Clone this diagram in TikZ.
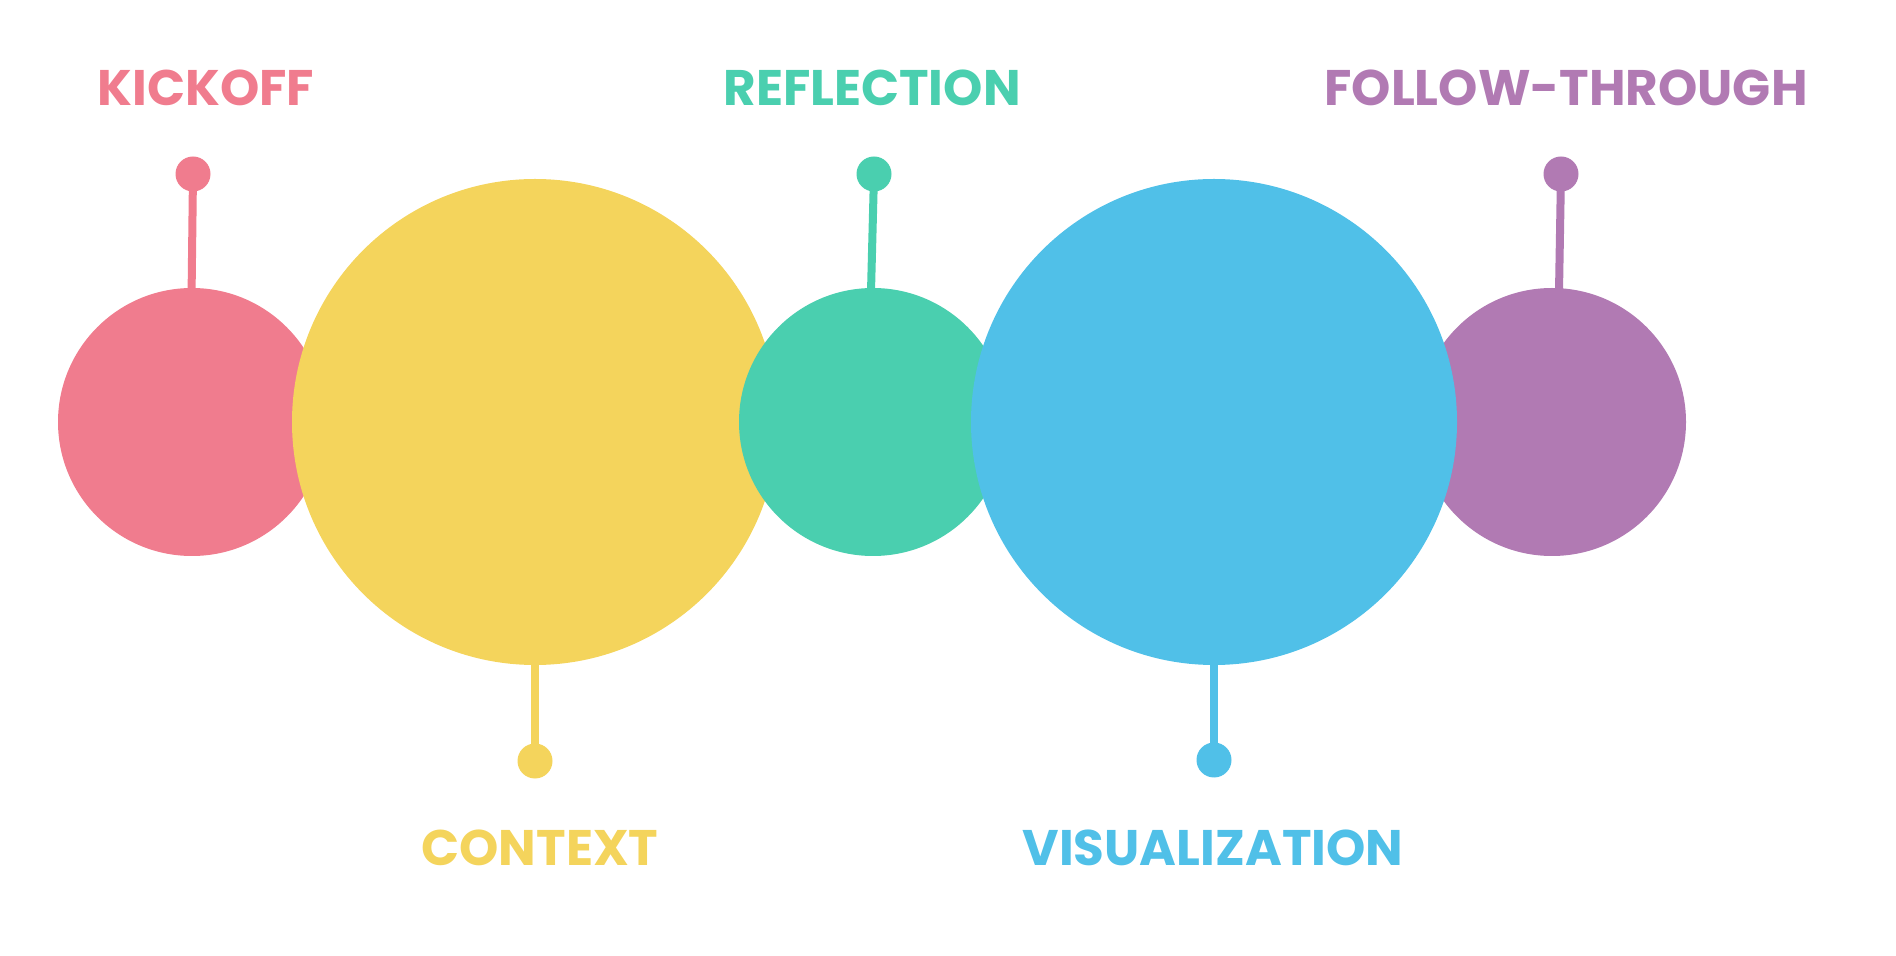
\documentclass[tikz,border=0pt]{standalone}
\usepackage{fontspec}
\newfontfamily\stagefont{Poppins}
\usetikzlibrary{positioning}
\definecolor{kickcol}{HTML}{F07C8E}
\definecolor{ctxcol}{HTML}{F4D45C}
\definecolor{refcol}{HTML}{4ACFAF}
\definecolor{vizcol}{HTML}{50C0E8}
\definecolor{followcol}{HTML}{B17AB3}
\tikzset{
  blob/.style={circle,inner sep=0pt,minimum size=#1},
  pin/.style={circle,inner sep=0pt,minimum size=17.5pt},
  stem/.style={line width=4pt},
  stagelabel/.style={font=\stagefont\bfseries\fontsize{25}{30}\selectfont,inner sep=0pt,anchor=center}
}
\begin{document}
\begin{tikzpicture}[x=0.5pt,y=-0.5pt]
  \useasboundingbox (0,0) rectangle (1896,956); % 全体の大きさ
  \node[blob=134pt,fill=kickcol] (kick) at (192,422) {}; % 左端の小さい円
  \node[blob=243pt,fill=ctxcol] (ctx) at (535,422) {}; % 大きい円（黄）
  \node[blob=134pt,fill=refcol] (ref) at (873,422) {}; % 中央の小さい円
  \node[blob=134pt,fill=followcol] (follow) at (1552,422) {}; % 右端の小さい円
  \node[blob=243pt,fill=vizcol] (viz) at (1214,422) {}; % 大きい円（青）

  % 上向きのピン
  \node[pin,fill=kickcol] (kickdot) at (193,174) {};
  \node[pin,fill=refcol] (refdot) at (874,174) {};
  \node[pin,fill=followcol] (followdot) at (1561,174) {};
  \draw[stem,kickcol] ([xshift=-0.2pt,yshift=-2pt]kick.north) -- (kickdot.center);
  \draw[stem,refcol] ([xshift=-1pt,yshift=-2pt]ref.north) -- (refdot.center);
  \draw[stem,followcol] ([xshift=3.5pt,yshift=-2pt]follow.north) -- (followdot.center);

  % 下向きのピン
  \node[pin,fill=ctxcol] (ctxdot) at (535,761) {};
  \node[pin,fill=vizcol] (vizdot) at (1214,760) {};
  \draw[stem,ctxcol] ([yshift=2pt]ctx.south) -- (ctxdot.center);
  \draw[stem,vizcol] ([yshift=2pt]viz.south) -- (vizdot.center);

  % ラベル
  \node[stagelabel,text=kickcol] (kicklabel) at (206,88) {KICKOFF};
  \node[stagelabel,text=refcol] (reflabel) at (872,88) {REFLECTION};
  \node[stagelabel,text=followcol] (followlabel) at (1566,88) {FOLLOW-THROUGH};
  \node[stagelabel,text=ctxcol] (ctxlabel) at (540,848) {CONTEXT};
  \node[stagelabel,text=vizcol] (vizlabel) at (1213,848) {VISUALIZATION};
\end{tikzpicture}
\end{document}
